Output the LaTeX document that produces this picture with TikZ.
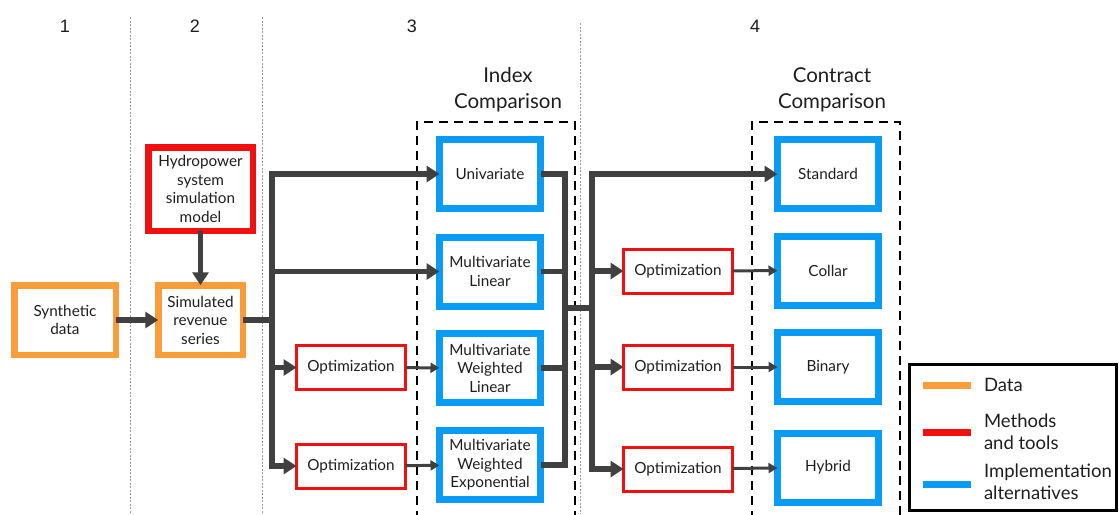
\documentclass[tikz,border=0pt]{standalone}
\usepackage{fontspec}
\setmainfont{Lato}
\newfontfamily\numfont{Liberation Sans}
\usetikzlibrary{arrows.meta}
\definecolor{dorange}{HTML}{F99D3A}
\definecolor{dred}{HTML}{F20F0F}
\definecolor{dblue}{HTML}{0A9CF5}
\definecolor{dgray}{HTML}{404040}
\definecolor{txt}{HTML}{1E1E1E}
\tikzset{
  every node/.style={text=txt, inner sep=0pt, outer sep=0pt},
  boxfont/.style={font=\fontsize{15.3}{18.5}\selectfont, align=center},
  databox/.style={boxfont, draw=dorange, line width=6.5pt},
  toolbox/.style={boxfont, draw=dred, line width=6.5pt},
  optbox/.style={boxfont, draw=dred, line width=3pt, minimum width=109pt, minimum height=44pt},
  altbox/.style={boxfont, draw=dblue, line width=7pt, minimum width=101pt, minimum height=69pt},
  thickline/.style={draw=dgray, line width=5.5pt, line join=miter},
  thickarrow/.style={thickline, -{Triangle[length=13pt,width=16pt]}},
  thinarrow/.style={draw=dgray, line width=3pt, -{Triangle[length=9pt,width=10pt]}},
  sepline/.style={draw=gray!80, line width=0.8pt, dash pattern=on 2pt off 1.5pt},
  groupbox/.style={draw=black, line width=2.5pt, dash pattern=on 9pt off 6pt},
  numlabel/.style={font=\numfont\fontsize{18}{20}\selectfont},
  titlelabel/.style={font=\fontsize{20.5}{26}\selectfont, align=center},
  legline/.style={line width=7pt},
  legtext/.style={font=\fontsize{18.5}{22.5}\selectfont, align=left, anchor=west}
}
\begin{document}
\begin{tikzpicture}[x=1pt,y=-1pt]
\useasboundingbox (0,0) rectangle (1119,514);
% separators
\coordinate (s1t) at (130,17); \coordinate (s1b) at (130,514);
\coordinate (s2t) at (262,17); \coordinate (s2b) at (262,514);
\coordinate (s3t) at (580,23); \coordinate (s3b) at (580,514);
\draw[sepline] (s1t) -- (s1b);
\draw[sepline] (s2t) -- (s2b);
\draw[sepline] (s3t) -- (s3b);
% numbers
\node[numlabel] (n1) at (65,26) {1};
\node[numlabel] (n2) at (195,26) {2};
\node[numlabel] (n3) at (412,26) {3};
\node[numlabel] (n4) at (755,26) {4};
% titles
\node[titlelabel] (t3) at (508,90) {Index\\Comparison};
\node[titlelabel] (t4) at (832,90) {Contract\\Comparison};
% group boxes
\coordinate (g1a) at (417,520); \coordinate (g1b) at (417,122);
\coordinate (g1c) at (575,122); \coordinate (g1d) at (575,520);
\draw[groupbox] (g1a) -- (g1b) -- (g1c) -- (g1d);
\coordinate (g2a) at (752,520); \coordinate (g2b) at (752,122);
\coordinate (g2c) at (900,122); \coordinate (g2d) at (900,520);
\draw[groupbox] (g2a) -- (g2b) -- (g2c) -- (g2d);
% data and tools
\node[databox, minimum width=101.5pt, minimum height=69.5pt] (syn) at (65,320) {Synthetic\\data};
\node[databox, minimum width=84.5pt, minimum height=69.5pt] (sim) at (200.5,320) {Simulated\\revenue\\series};
\node[toolbox, minimum width=104.5pt, minimum height=83.5pt] (hyd) at (200.5,189) {Hydropower\\system\\simulation\\model};
% index alternatives
\node[altbox] (uni) at (490,174) {Univariate};
\node[altbox] (ml) at (490,271.5) {Multivariate\\Linear};
\node[altbox] (mwl) at (490,368) {Multivariate\\Weighted\\Linear};
\node[altbox] (mwe) at (490,465) {Multivariate\\Weighted\\Exponential};
\node[optbox] (o1) at (351,367.5) {Optimization};
\node[optbox] (o2) at (351,466) {Optimization};
% contract alternatives
\node[altbox] (std) at (828,174) {Standard};
\node[altbox] (col) at (828,270.5) {Collar};
\node[altbox] (bin) at (828,367) {Binary};
\node[altbox] (hyb) at (828,467.5) {Hybrid};
\node[optbox] (o3) at (678,271) {Optimization};
\node[optbox] (o4) at (678,367) {Optimization};
\node[optbox] (o5) at (678,469) {Optimization};
% connectors left
\draw[thickarrow] (syn) -- (sim);
\draw[thickarrow] (hyd) -- (sim);
\coordinate (jL) at (272,320);
\draw[thickline] (sim.east) -- (jL);
\draw[thickarrow] (jL) |- (uni.west);
\draw[thickarrow] (jL) |- (ml.west);
\draw[thickarrow] (jL) |- (o1.west);
\draw[thickarrow] (jL) |- (o2.west);
\draw[thinarrow] (o1) -- (mwl);
\draw[thinarrow] (o2) -- (mwe);
% connectors middle
\coordinate (jM) at (565,308);
\coordinate (jR) at (592,308);
\draw[thickline] (uni.east) -| (jM);
\draw[thickline] (ml.east) -| (jM);
\draw[thickline] (mwl.east) -| (jM);
\draw[thickline] (mwe.east) -| (jM);
\draw[thickline] (jM) -- (jR);
\draw[thickarrow] (jR) |- (std.west);
\draw[thickarrow] (jR) |- (o3.west);
\draw[thickarrow] (jR) |- (o4.west);
\draw[thickarrow] (jR) |- (o5.west);
\draw[thinarrow] (o3) -- (col);
\draw[thinarrow] (o4) -- (bin);
\draw[thinarrow] (o5) -- (hyb);
% legend
\node[draw=black, line width=3pt, minimum width=207pt, minimum height=146pt, anchor=north west] (leg) at (909.5,364.5) {};
\coordinate (la1) at (923,385); \coordinate (la2) at (971,385);
\coordinate (lb1) at (923,432); \coordinate (lb2) at (971,432);
\coordinate (lc1) at (923,484); \coordinate (lc2) at (971,484);
\draw[legline, dorange] (la1) -- (la2);
\draw[legline, dred] (lb1) -- (lb2);
\draw[legline, dblue] (lc1) -- (lc2);
\node[legtext] (l1) at (984,385) {Data};
\node[legtext] (l2) at (984,432) {Methods\\and tools};
\node[legtext] (l3) at (984,482) {Implementation\\alternatives};
\end{tikzpicture}
\end{document}
